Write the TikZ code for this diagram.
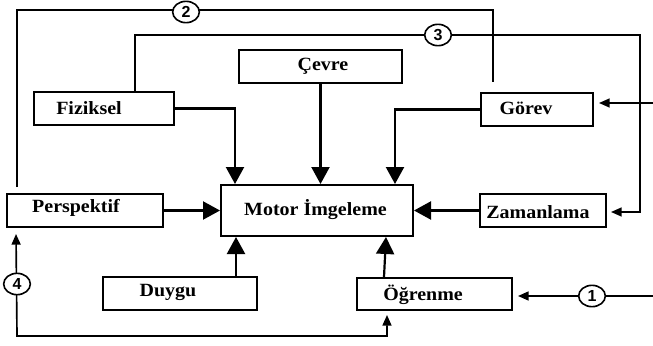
\documentclass[tikz,border=0pt]{standalone}
\usepackage{fontspec}
\setmainfont{Liberation Serif}[FakeStretch=1.07]
\newfontfamily\numfont{Liberation Sans}
\usetikzlibrary{arrows.meta,shapes.geometric,calc}
\begin{document}
\begin{tikzpicture}[x=0.75pt,y=-0.75pt,
  box/.style={draw,line width=1.5pt,inner sep=0pt,fill=white},
  lbl/.style={font=\bfseries\fontsize{14}{16}\selectfont,inner sep=0pt},
  big/.style={line width=1.65pt,-{Triangle[length=12.75pt,width=13.5pt]}},
  thinl/.style={line width=1.05pt},
  sm/.tip={Triangle[length=8pt,width=6.75pt]},
  num/.style={draw,ellipse,line width=1.2pt,fill=white,inner sep=0pt,
    minimum width=20pt,minimum height=16pt,font=\numfont\bfseries\fontsize{12}{12}\selectfont}]
\useasboundingbox (0,0) rectangle (653,346);
% boxes
\node[box,minimum width=140*0.75pt,minimum height=33*0.75pt] (fiz) at (104,108.5) {};
\node[box,minimum width=163*0.75pt,minimum height=33*0.75pt] (cev) at (320.5,66.5) {};
\node[box,minimum width=112*0.75pt,minimum height=33*0.75pt] (gor) at (537,109.5) {};
\node[box,minimum width=156*0.75pt,minimum height=33*0.75pt] (per) at (85,210.5) {};
\node[box,minimum width=192*0.75pt,minimum height=51*0.75pt] (mot) at (317,210.5) {};
\node[box,minimum width=126*0.75pt,minimum height=33*0.75pt] (zam) at (543,210.5) {};
\node[box,minimum width=154*0.75pt,minimum height=33*0.75pt] (duy) at (180,293.5) {};
\node[box,minimum width=155*0.75pt,minimum height=32*0.75pt] (ogr) at (434.5,294) {};
% labels
\node[lbl] (tfiz) at (89,108) {Fiziksel};
\node[lbl] (tcev) at (323,66) {Çevre};
\node[lbl] (tgor) at (526,108) {Görev};
\node[lbl] (tper) at (76,207.5) {Perspektif};
\node[lbl] (tmot) at (315.5,210) {Motor İmgeleme};
\node[lbl] (tzam) at (538,212) {Zamanlama};
\node[lbl] (tduy) at (168,292) {Duygu};
\node[lbl] (togr) at (423,295) {Öğrenme};
% main arrows into Motor
\draw[big] (fiz.east) -| ($(mot.north west)+(15,0)$);
\draw[big] (cev.south) -- (cev.south |- mot.north);
\draw[big] (gor.west) -| ($(mot.north east)+(-19,0)$);
\draw[big] (per.east) -- (mot.west);
\draw[big] (zam.west) -- (mot.east);
\draw[big] ($(duy.north west)+(134,0)$) -- ($(mot.south west)+(16,0)$);
\draw[big] ($(ogr.north west)+(28,0)$) -- ($(mot.south east)+(-28,0)$);
% loop 2
\coordinate (a2) at (17,187);
\coordinate (b2) at (493,82);
\draw[thinl] (a2) |- (b2 |- 0,10) -- (b2);
\node[num] (n2) at (186,12) {2};
% loop 3
\coordinate (c3) at (640,35);
\draw[thinl,-sm] ($(fiz.north west)+(102,0)$) |- (c3) |- ($(zam.east)+(4,1.5)$);
\node[num] (n3) at (438,35) {3};
% input to Görev
\coordinate (g0) at (653,103);
\draw[thinl,-sm] (g0) -- ($(gor.east)+(5,-6.5)$);
% input 1
\coordinate (i1) at (653,296);
\draw[line width=1.25pt,-sm] (i1) -- ($(ogr.east)+(5,2)$);
\node[num] (n1) at (592,296) {1};
% loop 4
\coordinate (c4) at (17,336);
\draw[line width=1.25pt,sm-sm] ($(per.south west)+(10,6)$) -- (c4) -| ($(ogr.south west)+(31,4)$);
\node[num] (n4) at (17,284) {4};
\end{tikzpicture}
\end{document}
